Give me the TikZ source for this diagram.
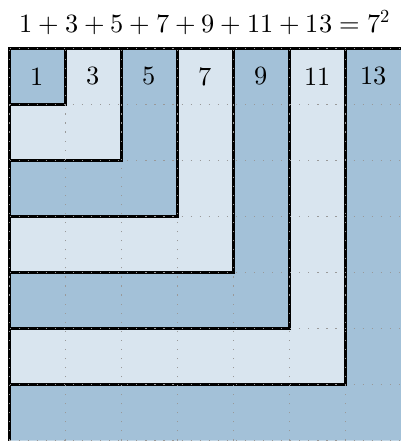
\documentclass[tikz,border=0pt]{standalone}
\usepackage{unicode-math}
\definecolor{darkL}{RGB}{163,193,216}
\definecolor{lightL}{RGB}{217,229,239}
\tikzset{
  border/.style={black, line width=1.5pt, line join=miter},
  gridline/.style={gray!80, line width=0.6pt, dash pattern=on 0.6pt off 4pt},
  numtext/.style={font=\fontsize{13.4}{16}\selectfont, inner sep=0pt},
}
\begin{document}
\begin{tikzpicture}
\useasboundingbox (-0.17,0.866) rectangle (6.973,-7.009);
% L-shaped fills
\foreach \k in {0,...,6}{
  \pgfmathtruncatemacro{\kk}{\k+1}
  \pgfmathtruncatemacro{\kpar}{mod(\k,2)}
  \ifnum\kpar=0 \def\col{darkL}\else\def\col{lightL}\fi
  \fill[\col] (0,-\k) -- (\k,-\k) -- (\k,0) -- (\kk,0) -- (\kk,-\kk) -- (0,-\kk) -- cycle;
}
% L boundaries
\foreach \k in {1,...,6}{
  \draw[border] (\k,0) -- (\k,-\k) -- (0,-\k);
}
\draw[border] (0,-7.2) -- (0,0) -- (7.2,0);
% dotted grid
\draw[gridline] (0,0) grid (7,-7);
% numbers
\node[numtext] (n1) at (0.5,-0.5) {$1$};
\node[numtext] (n3) at (1.5,-0.5) {$3$};
\node[numtext] (n5) at (2.5,-0.5) {$5$};
\node[numtext] (n7) at (3.5,-0.5) {$7$};
\node[numtext] (n9) at (4.5,-0.5) {$9$};
\node[numtext] (n11) at (5.5,-0.5) {$11$};
\node[numtext] (n13) at (6.5,-0.5) {$13$};
\node[numtext, anchor=base] (title) at (3.5,0.29) {$1+3+5+7+9+11+13=7^2$};
\end{tikzpicture}
\end{document}
